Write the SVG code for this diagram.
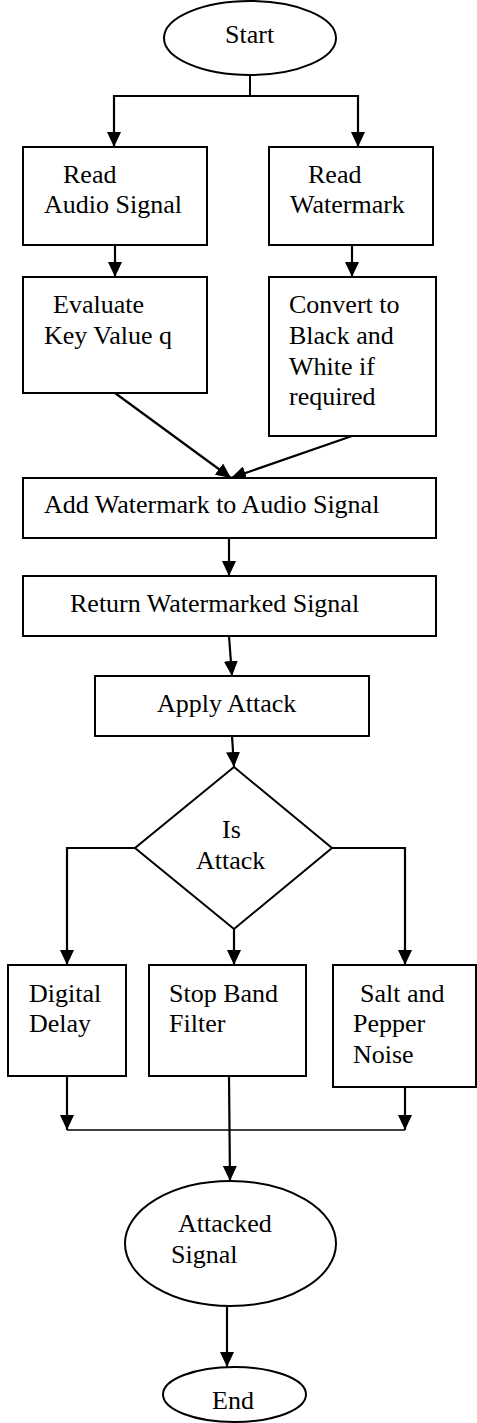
<svg xmlns="http://www.w3.org/2000/svg" width="477" height="1423" viewBox="0 0 477 1423">
<defs>
<marker id="ah" markerUnits="userSpaceOnUse" markerWidth="15" markerHeight="14" refX="15" refY="7" orient="auto">
<path d="M0,0 L15,7 L0,14 z" fill="#000"/>
</marker>
<style>
.n{fill:#fff;stroke:#000;stroke-width:2}
.t{font-family:"Liberation Serif","Times New Roman",serif;font-size:26px;fill:#000}
.c{fill:none;stroke:#000;stroke-width:2}
.ca{fill:none;stroke:#000;stroke-width:2.2;marker-end:url(#ah)}
</style>
</defs>
<rect width="477" height="1423" fill="#fff"/>
<g id="connectors">
<polyline class="c" points="250,76 250,96"/>
<polyline class="ca" points="250,96 114,96 114,147"/>
<polyline class="ca" points="250,96 358,96 358,147"/>
<line class="ca" x1="115" y1="245" x2="115" y2="277"/>
<line class="ca" x1="352" y1="245" x2="352" y2="277"/>
<line class="ca" x1="115" y1="393" x2="231" y2="478"/>
<line class="ca" x1="352" y1="436" x2="231" y2="478"/>
<line class="ca" x1="229" y1="538" x2="229" y2="576"/>
<line class="ca" x1="229" y1="636" x2="232" y2="676"/>
<line class="ca" x1="232" y1="736" x2="234" y2="767"/>
<polyline class="ca" points="135,848 67,848 67,965"/>
<polyline class="ca" points="332,848 405,848 405,965"/>
<line class="ca" x1="234" y1="929" x2="234" y2="965"/>
<line class="ca" x1="67" y1="1076" x2="67" y2="1130"/>
<line class="ca" x1="405" y1="1087" x2="405" y2="1130"/>
<line class="c" x1="67" y1="1130" x2="405" y2="1130" style="stroke-width:1.5"/>
<line class="ca" x1="229" y1="1076" x2="230" y2="1181"/>
<line class="ca" x1="227" y1="1306" x2="227" y2="1367"/>
</g>
<g id="start">
<ellipse class="n" cx="250" cy="38" rx="86" ry="37"/>
<text class="t" x="225" y="43">Start</text>
</g>
<g id="read-audio">
<rect class="n" x="23" y="147" width="184" height="98"/>
<text class="t" x="63" y="183">Read</text>
<text class="t" x="44" y="213">Audio Signal</text>
</g>
<g id="read-watermark">
<rect class="n" x="269" y="147" width="164" height="98"/>
<text class="t" x="308" y="183">Read</text>
<text class="t" x="290" y="213">Watermark</text>
</g>
<g id="evaluate">
<rect class="n" x="23" y="277" width="184" height="116"/>
<text class="t" x="53" y="313">Evaluate</text>
<text class="t" x="44" y="344">Key Value q</text>
</g>
<g id="convert">
<rect class="n" x="269" y="277" width="167" height="159"/>
<text class="t" x="289" y="313">Convert to</text>
<text class="t" x="289" y="344">Black and</text>
<text class="t" x="289" y="375">White if</text>
<text class="t" x="289" y="405">required</text>
</g>
<g id="add">
<rect class="n" x="23" y="478" width="413" height="60"/>
<text class="t" x="44" y="513">Add Watermark to Audio Signal</text>
</g>
<g id="return">
<rect class="n" x="23" y="576" width="413" height="60"/>
<text class="t" x="70" y="612">Return Watermarked Signal</text>
</g>
<g id="apply">
<rect class="n" x="95" y="676" width="274" height="60"/>
<text class="t" x="157" y="712">Apply Attack</text>
</g>
<g id="is-attack">
<polygon class="n" points="234,767 332,848 234,929 135,848"/>
<text class="t" x="222" y="838">Is</text>
<text class="t" x="196" y="869">Attack</text>
</g>
<g id="digital-delay">
<rect class="n" x="8" y="965" width="118" height="111"/>
<text class="t" x="29" y="1002">Digital</text>
<text class="t" x="29" y="1032">Delay</text>
</g>
<g id="stop-band">
<rect class="n" x="149" y="965" width="157" height="111"/>
<text class="t" x="169" y="1002">Stop Band</text>
<text class="t" x="169" y="1032">Filter</text>
</g>
<g id="salt-pepper">
<rect class="n" x="333" y="965" width="143" height="122"/>
<text class="t" x="360" y="1002">Salt and</text>
<text class="t" x="353" y="1032">Pepper</text>
<text class="t" x="353" y="1063">Noise</text>
</g>
<g id="attacked">
<ellipse class="n" cx="230.5" cy="1243.5" rx="105.5" ry="62.5"/>
<text class="t" x="178" y="1232">Attacked</text>
<text class="t" x="171" y="1263">Signal</text>
</g>
<g id="end">
<ellipse class="n" cx="234.5" cy="1394.5" rx="71.5" ry="27.5"/>
<text class="t" x="212" y="1409">End</text>
</g>
</svg>
